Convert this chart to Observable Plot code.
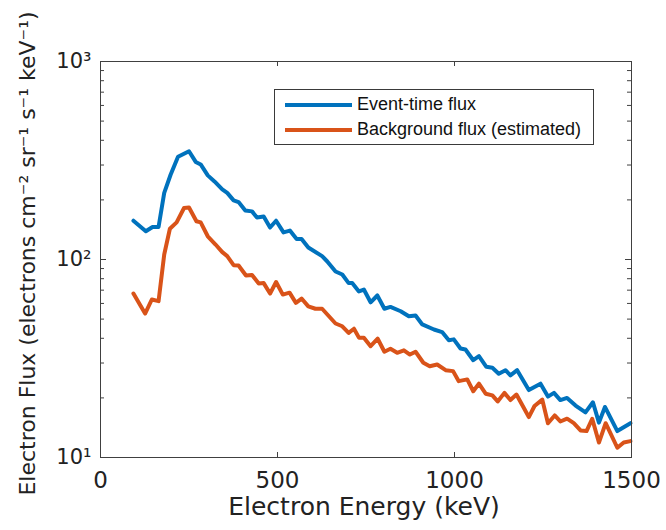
<!DOCTYPE html>
<html>
<head>
<meta charset="utf-8">
<script src="https://cdn.jsdelivr.net/npm/d3@7"></script>
<script src="https://cdn.jsdelivr.net/npm/@observablehq/plot@0.6"></script>
<style>
  html, body { margin: 0; padding: 0; background: #fff; }
  #wrap { position: relative; width: 666px; height: 530px; }
  #legend {
    position: absolute; left: 274px; top: 89px; width: 320px; height: 56px;
    border: 1px solid #3a3a3a; background: #fff; box-sizing: border-box;
    font-family: "Liberation Sans", Arial, sans-serif; font-size: 18px; color: #111;
  }
  .row { position: absolute; left: 10px; display: flex; align-items: center; }
  .sw { width: 67px; height: 4px; margin-right: 5px; }
</style>
</head>
<body>
<div id="wrap"></div>
<script>
// Event-time flux (blue)
const eventEnergy = [93,128,147,164,180,198,219,250,269,283,303,322,344,358,376,390,409,428,442,461,479,496,517,535,554,568,587,
  626,640,664,683,701,711,730,744,763,782,802,819,848,871,890,909,942,965,984,998,1017,1031,1053,1069,1090,1107,1125,1144,1158,1177,
  1210,1243,1264,1281,1299,1318,1342,1370,1391,1408,1425,1460,1497];
const eventFlux = [157,139,146,146,217,268,330,352,311,302,266,248,226,217,199,195,177,175,163,165,145,157,137,140,127,127,115,
  104,98,87,84,76,76,69,70.5,60.8,65.8,56.4,57.6,54.8,51.7,52.1,47,44.3,43,39.1,39.5,35.5,35.1,31,32.5,28.7,28.4,26.5,27.6,26,27.6,
  21.9,23.6,20.3,21.2,19.5,20,18.3,16.9,19,15,18,13.6,14.9];

// Background flux (estimated) (orange)
const bgEnergy = [93,126,145,164,180,196,215,236,250,271,283,303,325,344,358,376,390,411,428,447,461,479,496,515,534,552,568,587,
  607,626,664,683,701,716,730,744,763,783,802,819,838,857,874,890,912,930,951,975,996,1012,1036,1053,1069,1088,1107,1122,1141,1158,
  1175,1196,1210,1226,1248,1264,1283,1299,1318,1337,1356,1373,1389,1408,1427,1460,1478,1497];
const bgFlux = [67.3,53.3,62.8,61.6,106,143,154,182,183,156,154,131,119,109,104,93.6,93.3,83,83.6,75.7,76,67.3,77,66.5,68,60.4,63.5,58,
  56.4,56.4,47.5,46,42.6,44.7,40.3,40.3,36.5,39.8,34.2,35.4,33.8,34.8,33.1,34.2,30.1,28.9,29.5,27.6,27.3,24.3,24.8,21.6,23.6,21,20.6,19.2,21.2,19.5,
  20.8,17.8,16,18.2,19.6,14.9,16.3,15.2,15.7,14.9,13.7,13.6,15.7,11.9,14.9,11.2,11.9,12.1];

const xTicks = [0, 500, 1000, 1500];
const yMajor = [10, 100, 1000];
const yMinor = [20,30,40,50,60,70,80,90,200,300,400,500,600,700,800,900];

const seriesNames = ["Event-time flux", "Background flux (estimated)"];
const colors = ["#0072BD", "#D95319"];
const xTitle = "Electron Energy (keV)";
const yTitle = "Electron Flux (electrons cm\u207B\u00B2 sr\u207B\u00B9 s\u207B\u00B9 keV\u207B\u00B9)";

const eventData = eventEnergy.map((e, i) => ({e, f: eventFlux[i]}));
const bgData = bgEnergy.map((e, i) => ({e, f: bgFlux[i]}));

const W = 666, H = 530, ML = 100, MR = 35, MT = 61, MB = 73;
const innerW = W - ML - MR, innerH = H - MT - MB;
const axisColor = "#404040";
const sup = {"1": "\u00B9", "2": "\u00B2", "3": "\u00B3"};

const chart = Plot.plot({
  width: W, height: H,
  marginLeft: ML, marginRight: MR, marginTop: MT, marginBottom: MB,
  style: {fontFamily: "DejaVu Sans", background: "white", color: "#222"},
  x: {domain: [0, 1500]},
  y: {type: "log", domain: [10, 1000]},
  marks: [
    Plot.line(eventData, {x: "e", y: "f", stroke: colors[0], strokeWidth: 4, strokeLinejoin: "round"}),
    Plot.line(bgData, {x: "e", y: "f", stroke: colors[1], strokeWidth: 4, strokeLinejoin: "round"}),
    Plot.frame({stroke: axisColor}),
    Plot.tickX(xTicks, {x: d => d, insetTop: innerH - 5, stroke: axisColor}),
    Plot.tickX(xTicks, {x: d => d, insetBottom: innerH - 5, stroke: axisColor}),
    Plot.tickY(yMajor, {y: d => d, insetRight: innerW - 6, stroke: axisColor}),
    Plot.tickY(yMajor, {y: d => d, insetLeft: innerW - 6, stroke: axisColor}),
    Plot.tickY(yMinor, {y: d => d, insetRight: innerW - 4, stroke: axisColor}),
    Plot.tickY(yMinor, {y: d => d, insetLeft: innerW - 4, stroke: axisColor}),
    Plot.axisX(xTicks, {tickSize: 0, tickPadding: 14, fontSize: 23, label: null, tickFormat: d => String(d)}),
    Plot.axisY(yMajor, {tickSize: 0, tickPadding: 9, fontSize: 21, label: null,
      tickFormat: d => "10" + sup[String(Math.round(Math.log10(d)))]}),
    Plot.text([xTitle], {text: d => d, frameAnchor: "bottom", dx: -2, dy: 57, fontSize: 25, fill: "#222"}),
    Plot.text([yTitle], {text: d => d, frameAnchor: "left", textAnchor: "middle", lineAnchor: "middle",
      rotate: -90, dx: -73, dy: -6, fontSize: 22, fill: "#222"})
  ]
});

const wrap = document.getElementById("wrap");
wrap.appendChild(chart);

const legend = document.createElement("div");
legend.id = "legend";
seriesNames.forEach((name, i) => {
  const row = document.createElement("div");
  row.className = "row";
  row.style.top = (i === 0 ? 4 : 29) + "px";
  const sw = document.createElement("div");
  sw.className = "sw";
  sw.style.background = colors[i];
  const label = document.createElement("span");
  label.textContent = name;
  row.appendChild(sw);
  row.appendChild(label);
  legend.appendChild(row);
});
wrap.appendChild(legend);
</script>
</body>
</html>
